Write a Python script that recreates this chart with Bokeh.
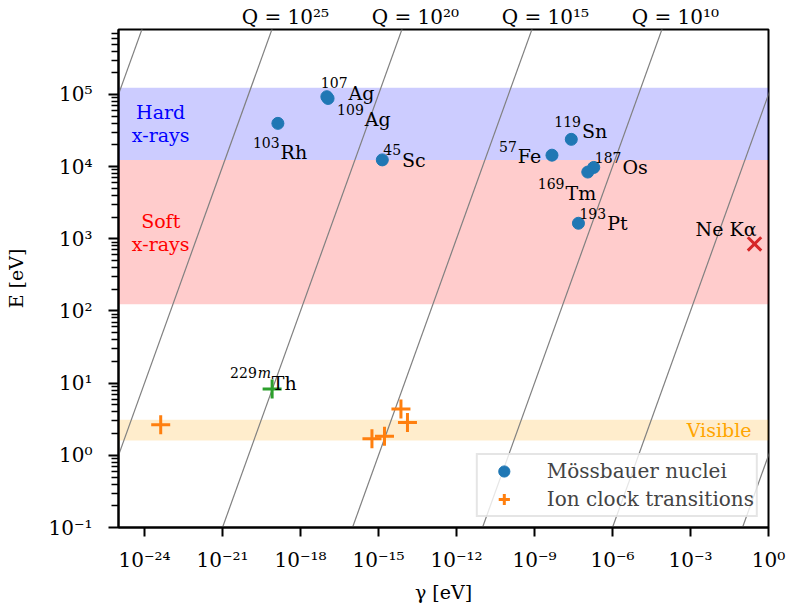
from bokeh.plotting import figure
from bokeh.models import (Range1d, FixedTicker, CustomJSTickFormatter, BoxAnnotation,
                          ColumnDataSource, LogAxis)
from bokeh.core.properties import value
from bokeh.embed import file_html
from bokeh.resources import INLINE

FONT = "DejaVu Serif"

# ---------------- data ----------------
moss_mass = ["103", "107", "109", "45", "57", "119", "187", "169", "193"]
moss_symbol = ["Rh", "Ag", "Ag", "Sc", "Fe", "Sn", "Os", "Tm", "Pt"]
moss_gamma = [1.35e-19, 1.03e-17, 1.15e-17, 1.4e-15, 4.7e-9, 2.6e-8, 1.9e-7, 1.12e-7, 4.9e-8]
moss_E = [39750, 93100, 88030, 12400, 14413, 23870, 9750, 8410, 1642]

ion_gamma = [4.2e-24, 5.6e-16, 1.7e-15, 7.3e-15, 1.3e-14]
ion_E = [2.65, 1.70, 1.84, 4.40, 2.84]

th_mass = "229"
th_iso = "m"
th_symbol = "Th"
th_gamma = [8.1e-20]
th_E = [8.3]

ne_label = ["Ne Kα"]
ne_gamma = [0.29]
ne_E = [849]

q_values = [1e0, 1e5, 1e10, 1e15, 1e20, 1e25, 1e30]
q_labelled = [1e25, 1e20, 1e15, 1e10]
q_label_text = ["Q = 10²⁵", "Q = 10²⁰", "Q = 10¹⁵", "Q = 10¹⁰"]

hard_xray = (12400, 124000)
soft_xray = (124, 12400)
visible = (1.6, 3.1)

x_ticks = [1e-24, 1e-21, 1e-18, 1e-15, 1e-12, 1e-9, 1e-6, 1e-3, 1e0]
y_ticks = [1e-1, 1e0, 1e1, 1e2, 1e3, 1e4, 1e5]
x_lim = (1e-25, 1e0)
y_lim = (1e-1, 10 ** 5.9)

# ---------------- layout (pixel offsets of annotations) ----------------
moss_dx = [-25, -6, 9, 1, -53, -17, 1, -50, 1]
moss_dy = [29, -4, 21, 0, 1, -8, 0, 21, 0]
SUP = 14
DIGIT_W = 0.636 * SUP
SUP_RAISE = 10
SUP_GAP = 1
Q_LABEL_SHIFT = 10 ** 0.52   # label centre relative to where the line leaves the top

y_minor = [m * 10.0 ** k for k in range(-1, 6) for m in range(2, 10) if m * 10.0 ** k < y_lim[1]]

p = figure(width=787, height=605, x_axis_type="log", y_axis_type="log",
           x_range=Range1d(*x_lim), y_range=Range1d(*y_lim), title=None,
           output_backend="svg", toolbar_location=None,
           min_border_left=118, min_border_right=19, min_border_top=29, min_border_bottom=78)

p.xgrid.visible = False
p.ygrid.visible = False
p.outline_line_color = "black"
p.outline_line_width = 2
p.outline_line_alpha = 1

# bands
for (lo, hi), col in ((hard_xray, "#0000ff"), (soft_xray, "#ff0000"), (visible, "#ffa500")):
    p.add_layout(BoxAnnotation(bottom=lo, top=hi, fill_color=col, fill_alpha=0.2,
                               line_color=None, level="underlay"))

# Q lines  E = Q * gamma
for q in q_values:
    p.line(x=[1e-2 / q, 1e7 / q], y=[1e-2, 1e7], line_color="#808080", line_width=1.2)

txt = dict(text_font=value(FONT), text_font_size=value("19px"))

# band labels
band_text_x = 4.2e-24
p.text(x=[band_text_x], y=[(hard_xray[0] * hard_xray[1]) ** 0.5], text=["Hard\nx-rays"],
       text_color="#0000ff", text_align="center", text_baseline="middle",
       text_line_height=1.05, **txt)
p.text(x=[band_text_x], y=[(soft_xray[0] * soft_xray[1]) ** 0.5], text=["Soft\nx-rays"],
       text_color="#ff0000", text_align="center", text_baseline="middle",
       text_line_height=1.05, **txt)
p.text(x=[x_lim[1]], y=[(visible[0] * visible[1]) ** 0.5], text=["Visible"],
       text_color="#ffa500", text_align="right", text_baseline="middle", x_offset=-17, **txt)

# markers
p.scatter(moss_gamma, moss_E, marker="circle", size=12, color="#1f77b4",
          legend_label="Mössbauer nuclei")
p.scatter(ion_gamma, ion_E, marker="cross", size=19, line_width=3, line_color="#ff7f0e",
          legend_label="Ion clock transitions")
p.scatter(th_gamma, th_E, marker="cross", size=19, line_width=3, line_color="#2ca02c")
p.scatter(ne_gamma, ne_E, marker="x", size=19, line_width=3, line_color="#d62728")

# point labels: superscript mass number + element symbol
sup_src = ColumnDataSource(dict(x=moss_gamma, y=moss_E, text=moss_mass,
                                dx=moss_dx, dy=[d - SUP_RAISE for d in moss_dy]))
sym_src = ColumnDataSource(dict(x=moss_gamma, y=moss_E, text=moss_symbol,
                                dx=[d + len(m) * DIGIT_W + SUP_GAP for d, m in zip(moss_dx, moss_mass)],
                                dy=moss_dy))
p.text(x="x", y="y", text="text", x_offset="dx", y_offset="dy", text_align="left",
       text_baseline="alphabetic", text_font=value(FONT), text_font_size=value(f"{SUP}px"),
       text_color="black", source=sup_src)
p.text(x="x", y="y", text="text", x_offset="dx", y_offset="dy", text_align="left",
       text_baseline="alphabetic", text_color="black", source=sym_src, **txt)

th_dx, th_dy = -42, -6
p.text(x=th_gamma, y=th_E, text=[th_mass], x_offset=th_dx, y_offset=th_dy - SUP_RAISE,
       text_align="left", text_baseline="alphabetic", text_font=value(FONT),
       text_font_size=value(f"{SUP}px"), text_color="black")
p.text(x=th_gamma, y=th_E, text=[th_iso], x_offset=th_dx + 3 * DIGIT_W + 1,
       y_offset=th_dy - SUP_RAISE, text_align="left", text_baseline="alphabetic",
       text_font=value(FONT), text_font_size=value(f"{SUP}px"), text_font_style="italic",
       text_color="black")
p.text(x=th_gamma, y=th_E, text=[th_symbol], x_offset=th_dx + 3 * DIGIT_W + 13 + SUP_GAP + 1,
       y_offset=th_dy, text_align="left", text_baseline="alphabetic", text_color="black", **txt)
p.text(x=ne_gamma, y=ne_E, text=ne_label, x_offset=-59, y_offset=-15, text_align="left",
       text_baseline="alphabetic", text_color="black", **txt)

# axes
fmt = CustomJSTickFormatter(code="""
const sup = {"-":"⁻","0":"⁰","1":"¹","2":"²","3":"³","4":"⁴","5":"⁵","6":"⁶","7":"⁷","8":"⁸","9":"⁹"};
const e = Math.round(Math.log10(tick));
return "10" + String(e).split("").map(c => sup[c]).join("");
""")
p.xaxis.ticker = FixedTicker(ticks=x_ticks, minor_ticks=[])
p.yaxis.ticker = FixedTicker(ticks=y_ticks, minor_ticks=y_minor)
for ax in (p.xaxis[0], p.yaxis[0]):
    ax.formatter = fmt
    ax.axis_line_width = 2
    ax.major_tick_line_width = 2
    ax.major_tick_out = 9
    ax.major_tick_in = 0
    ax.minor_tick_line_width = 1.5
    ax.minor_tick_out = 6
    ax.minor_tick_in = 0
    ax.major_label_text_font = FONT
    ax.major_label_text_font_size = "20px"
    ax.major_label_text_color = "black"
    ax.axis_label_text_font = FONT
    ax.axis_label_text_font_size = "19px"
    ax.axis_label_text_font_style = "normal"
    ax.axis_label_text_color = "black"
p.yaxis.major_tick_out = 10
p.yaxis.minor_tick_out = 7
p.xaxis.axis_label = "γ [eV]"
p.yaxis.axis_label = "E [eV]"
p.xaxis.major_label_standoff = 11
p.yaxis.major_label_standoff = 16
p.xaxis.axis_label_standoff = 6
p.yaxis.axis_label_standoff = 18

# Q labels above the frame, as a label-only axis
q_pos = [y_lim[1] / q * Q_LABEL_SHIFT for q in q_labelled]
q_axis = LogAxis(ticker=FixedTicker(ticks=q_pos, minor_ticks=[]),
                 formatter=CustomJSTickFormatter(args=dict(labels=q_label_text),
                                                 code="return labels[index];"),
                 axis_line_color=None, major_tick_line_color=None, minor_tick_line_color=None,
                 major_tick_out=0, major_tick_in=0, minor_tick_out=0, minor_tick_in=0,
                 major_label_standoff=1, major_label_text_font=FONT,
                 major_label_text_font_size="20px", major_label_text_color="black")
p.add_layout(q_axis, "above")

leg = p.legend[0]
leg.location = "bottom_right"
leg.label_text_font = FONT
leg.label_text_font_size = "20px"
leg.border_line_color = "#cccccc"
leg.border_line_width = 2
leg.background_fill_alpha = 0.8
leg.margin = 10
leg.padding = 2
leg.spacing = 0
leg.glyph_width = 48
leg.glyph_height = 28
leg.label_height = 28
leg.label_standoff = 19

open("out.html", "w").write(file_html(p, INLINE))
